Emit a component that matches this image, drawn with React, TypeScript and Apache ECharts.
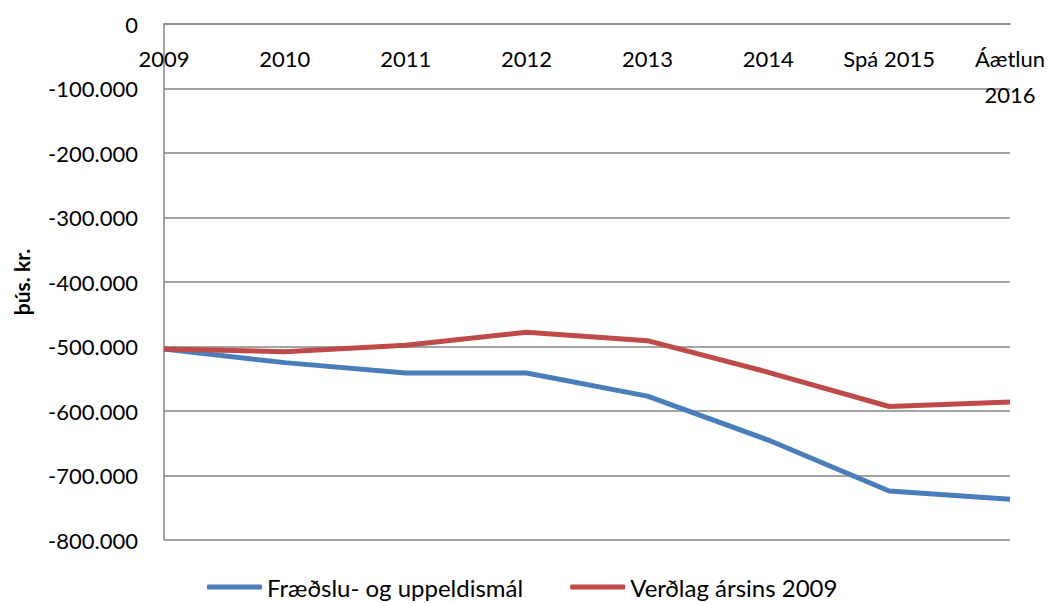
import React, { useEffect, useRef } from "react";
import * as echarts from "echarts";

const categories = ["2009", "2010", "2011", "2012", "2013", "2014", "Spá 2015", "Áætlun\n2016"];
const seriesNames = ["Fræðslu- og uppeldismál", "Verðlag ársins 2009"];
const fraedsla = [-504000, -525000, -541000, -541000, -577000, -645000, -724000, -737000];
const verdlag = [-504000, -508000, -498000, -478000, -491000, -540000, -593000, -586000];
const yMin = -800000;
const yMax = 0;
const yStep = 100000;
const yName = "þús. kr.";

const fmt = (v: number) => {
  if (v === 0) return "0";
  const s = Math.abs(v).toString().replace(/\B(?=(\d{3})+(?!\d))/g, ".");
  return (v < 0 ? "-" : "") + s;
};

export default function App() {
  const ref = useRef<HTMLDivElement>(null);
  useEffect(() => {
    if (!ref.current) return;
    const chart = echarts.init(ref.current, null, { renderer: "svg" });
    const font = "Lato, 'Noto Sans', sans-serif";
    chart.setOption({
      animation: false,
      textStyle: { fontFamily: font },
      grid: { left: 164, right: 40, top: 24, bottom: 63, containLabel: false },
      legend: {
        top: 573,
        left: 207,
        itemWidth: 55,
        itemHeight: 5,
        itemGap: 47,
        padding: 0,
        icon: "roundRect",
        textStyle: { fontSize: 24, lineHeight: 28, color: "#000", fontFamily: font },
        data: seriesNames,
      },
      xAxis: {
        type: "category",
        position: "top",
        boundaryGap: false,
        data: categories,
        axisLine: { show: true, lineStyle: { color: "#868686", width: 1.5 } },
        axisTick: { show: false },
        axisLabel: {
          inside: true,
          interval: 0,
          margin: 16,
          fontSize: 22,
          lineHeight: 36,
          color: "#000",
          fontFamily: font,
          showMinLabel: true,
          showMaxLabel: true,
        },
        splitLine: { show: false },
      },
      yAxis: {
        type: "value",
        min: yMin,
        max: yMax,
        interval: yStep,
        name: yName,
        nameLocation: "middle",
        nameGap: 132,
        nameTextStyle: { fontSize: 21, fontWeight: "bold", color: "#000", fontFamily: font },
        axisLine: { show: true, lineStyle: { color: "#868686", width: 1.5 } },
        axisTick: { show: false },
        axisLabel: { formatter: fmt, fontSize: 22, color: "#000", margin: 26, fontFamily: font },
        splitLine: { show: true, lineStyle: { color: "#868686", width: 1.5 } },
      },
      series: [
        {
          name: seriesNames[0],
          type: "line",
          data: fraedsla,
          symbol: "none",
          lineStyle: { color: "#4A7EBB", width: 5 },
          itemStyle: { color: "#4A7EBB" },
        },
        {
          name: seriesNames[1],
          type: "line",
          data: verdlag,
          symbol: "none",
          lineStyle: { color: "#BE4B48", width: 5 },
          itemStyle: { color: "#BE4B48" },
        },
      ],
    });
    return () => chart.dispose();
  }, []);
  return <div ref={ref} style={{ width: 1050, height: 603, position: "absolute", left: 0, top: 0 }} />;
}
